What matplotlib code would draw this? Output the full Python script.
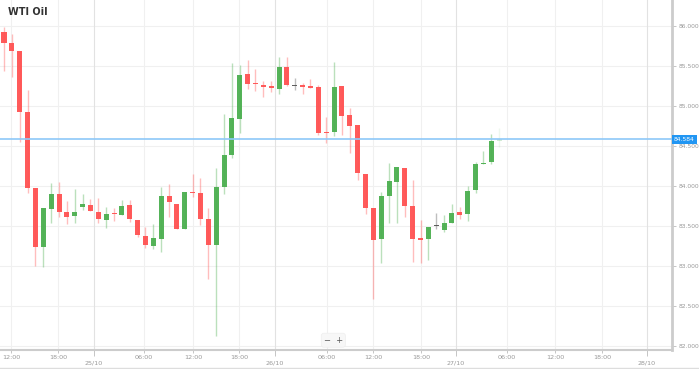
import matplotlib
matplotlib.use("Agg")
import matplotlib.pyplot as plt
import matplotlib.transforms as mtransforms
from matplotlib.lines import Line2D
import numpy as np

# Hourly candles (price)
opens = [85.925, 85.788, 85.688, 84.925, 83.975, 83.238, 83.713, 83.900, 83.675, 83.625,
         83.738, 83.763, 83.675, 83.575, 83.656, 83.638, 83.763, 83.575, 83.375, 83.250,
         83.338, 83.875, 83.775, 83.463, 83.925, 83.913, 83.588, 83.263, 83.988, 84.388,
         84.838, 85.400, 85.288, 85.263, 85.250, 85.213, 85.488, 85.250, 85.263, 85.244,
         85.238, 84.675, 84.675, 85.250, 84.888, 84.763, 84.150, 83.725, 83.338, 83.875,
         84.050, 84.225, 83.750, 83.350, 83.338, 83.500, 83.450, 83.538, 83.675, 83.650,
         83.950, 84.275, 84.300, 84.563]
highs = [85.988, 85.900, 85.688, 85.200, 83.975, 83.725, 84.038, 84.050, 83.813, 83.963,
         83.900, 83.838, 83.850, 83.738, 83.725, 83.825, 83.825, 83.575, 83.488, 83.525,
         83.988, 84.025, 83.775, 83.925, 84.150, 84.100, 83.725, 84.225, 84.900, 85.538,
         85.513, 85.575, 85.463, 85.313, 85.313, 85.613, 85.613, 85.350, 85.288, 85.338,
         85.263, 84.863, 85.550, 85.250, 84.975, 84.763, 84.150, 83.725, 83.925, 84.288,
         84.238, 84.225, 84.075, 83.575, 83.488, 83.663, 83.638, 83.775, 83.738, 84.000,
         84.300, 84.438, 84.650, 84.725]
lows = [85.438, 85.363, 84.550, 83.913, 83.000, 82.988, 83.538, 83.613, 83.525, 83.538,
        83.700, 83.688, 83.538, 83.475, 83.563, 83.638, 83.550, 83.363, 83.225, 83.213,
        83.175, 83.613, 83.463, 83.463, 83.863, 83.513, 82.838, 82.125, 83.900, 84.350,
        84.663, 85.213, 85.188, 85.113, 85.175, 85.150, 85.250, 85.200, 85.150, 85.225,
        84.638, 84.538, 84.625, 84.638, 84.413, 84.075, 83.650, 82.588, 83.038, 83.538,
        83.538, 83.613, 83.050, 83.038, 83.075, 83.463, 83.425, 83.538, 83.588, 83.563,
        83.913, 84.275, 84.275, 84.488]
closes = [85.788, 85.688, 84.925, 83.975, 83.238, 83.725, 83.900, 83.675, 83.613, 83.675,
          83.775, 83.688, 83.588, 83.650, 83.644, 83.750, 83.588, 83.388, 83.263, 83.350,
          83.875, 83.800, 83.463, 83.925, 83.913, 83.588, 83.263, 83.988, 84.388, 84.850,
          85.388, 85.275, 85.275, 85.238, 85.225, 85.488, 85.263, 85.250, 85.238, 85.231,
          84.663, 84.663, 85.238, 84.875, 84.750, 84.163, 83.725, 83.325, 83.875, 84.063,
          84.238, 83.750, 83.338, 83.325, 83.488, 83.500, 83.538, 83.663, 83.638, 83.938,
          84.275, 84.288, 84.563, 84.584]

last_price = 84.584
price_ticks = [82.0, 82.5, 83.0, 83.5, 84.0, 84.5, 85.0, 85.5, 86.0]

# x axis labels (positions in candle units)
time_pos = [0.9, 6.9, 17.8, 24.1, 29.9, 41.1, 47.0, 53.1, 64.0, 70.1, 76.1]
time_labels = ["12:00", "18:00", "06:00", "12:00", "18:00", "06:00", "12:00", "18:00",
               "06:00", "12:00", "18:00"]
date_pos = [11.45, 34.5, 57.5, 81.8]
date_labels = ["25/10", "26/10", "27/10", "28/10"]

RED = "#ff5252"
GREEN = "#4caf50"
GRAY = "#555555"

fig = plt.figure(figsize=(6.99, 3.69), dpi=100)
ax = fig.add_axes([0, 1 - 350 / 369, 672 / 699, 350 / 369])

x = np.arange(len(opens))
o = np.array(opens)
c = np.array(closes)
h = np.array(highs)
lo = np.array(lows)

colors = np.where(c > o, GREEN, np.where(c < o, RED, GRAY))
alphas = np.ones(len(o))
alphas[-1] = 0.25  # candle still forming

for i in x:
    ax.vlines(i, lo[i], h[i], color=colors[i], alpha=0.38 * alphas[i], lw=1, zorder=2)
    bottom = min(o[i], c[i])
    height = max(abs(c[i] - o[i]), 0.018)
    ax.bar(i, height, bottom=bottom, width=0.64, color=colors[i],
           alpha=0.95 * alphas[i], lw=0, zorder=3)

# current price line
ax.axhline(last_price, color="#8ec8f8", lw=1.2, zorder=4)

ax.set_xlim(-0.51, 85.0)
ax.set_ylim(81.95, 86.325)

# grid
for p in price_ticks:
    ax.axhline(p, color="#f0f0f0", lw=0.8, zorder=0)
for t in time_pos:
    ax.axvline(t, color="#f0f0f0", lw=0.8, zorder=0)
for t in date_pos:
    ax.axvline(t, color="#e2e2e2", lw=0.8, zorder=0)

# axes styling
ax.yaxis.tick_right()
ax.set_yticks(price_ticks, [f"{p:.3f}" for p in price_ticks])
ax.tick_params(axis="y", length=3, width=0.6, color="#bbbbbb", labelsize=4.3,
               labelcolor="#999999", pad=1.5)
ax.set_xticks(time_pos, time_labels)
ax.set_xticks(date_pos, date_labels, minor=True)
ax.tick_params(axis="x", which="major", length=2, width=0.6, color="#bbbbbb",
               labelsize=4.6, labelcolor="#999999", pad=1.5)
ax.tick_params(axis="x", which="minor", length=4, width=0.6, color="#bbbbbb",
               labelsize=4.6, labelcolor="#999999", pad=3.5)
for side in ["left", "top"]:
    ax.spines[side].set_visible(False)
ax.spines["right"].set_color("#cccccc")
ax.spines["right"].set_linewidth(2)
ax.spines["bottom"].set_color("#cccccc")
ax.spines["bottom"].set_linewidth(1.5)

# price label on the axis
trans = mtransforms.blended_transform_factory(ax.transAxes, ax.transData)
ax.text(1.003, last_price, f"{last_price:.3f}", transform=trans, fontsize=4.3,
        color="white", va="center", ha="left", zorder=6, clip_on=False,
        bbox=dict(boxstyle="square,pad=0.3", fc="#2196f3", ec="none"))

# zoom buttons
ax.text(0.496, 0.028, "\u2212  +", transform=ax.transAxes, fontsize=6, color="#555555",
        ha="center", va="center", zorder=6,
        bbox=dict(boxstyle="round,pad=0.3", fc="#f7f7f7", ec="#eeeeee", lw=0.5))

fig.text(8 / 699, 1 - 12 / 369, "WTI Oil", fontsize=7, fontweight="bold",
         color="#333333", va="center", ha="left")

# bottom border of the widget
fig.add_artist(Line2D([0, 1], [1 - 367.5 / 369] * 2, color="#dddddd", lw=1))

fig.savefig("out.png", dpi=100)
